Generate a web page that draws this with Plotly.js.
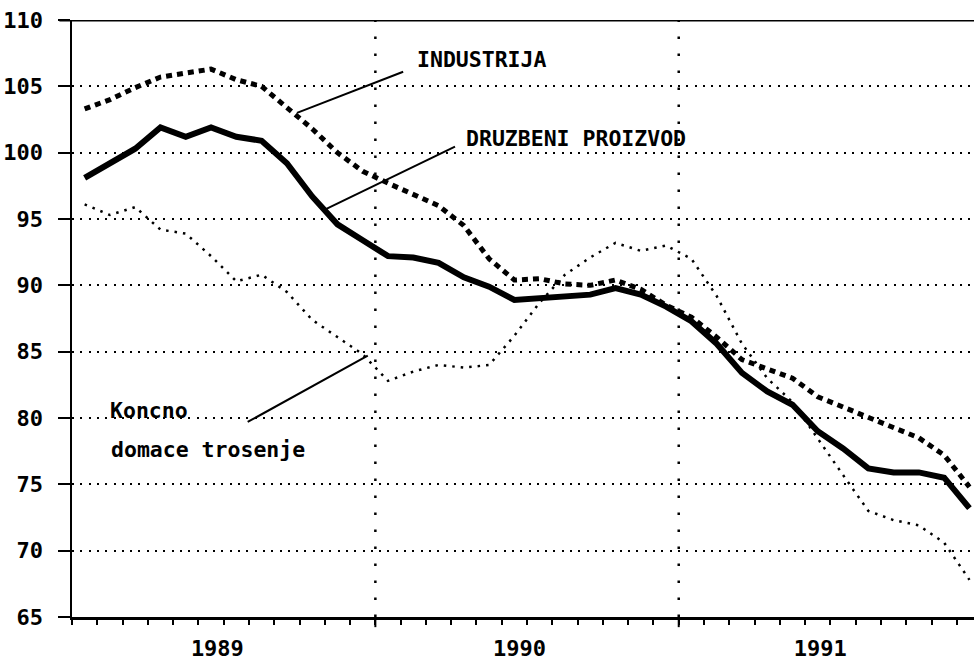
<!DOCTYPE html>
<html>
<head>
<meta charset="utf-8">
<script src="https://cdn.plot.ly/plotly-3.0.1.min.js"></script>
<style>
  html, body { margin: 0; padding: 0; background: #fff; }
  #chart { width: 974px; height: 661px; }
</style>
</head>
<body>
<div id="chart"></div>
<script>
// Monthly index values, Jan 1989 - Dec 1991
const months = [
  '1989-01','1989-02','1989-03','1989-04','1989-05','1989-06','1989-07','1989-08','1989-09','1989-10','1989-11','1989-12',
  '1990-01','1990-02','1990-03','1990-04','1990-05','1990-06','1990-07','1990-08','1990-09','1990-10','1990-11','1990-12',
  '1991-01','1991-02','1991-03','1991-04','1991-05','1991-06','1991-07','1991-08','1991-09','1991-10','1991-11','1991-12'
];
const industrija = [103.3, 104.0, 104.9, 105.7, 106.0, 106.3, 105.5, 105.0, 103.4, 101.8, 100.0, 98.6,
                    97.7, 96.9, 96.0, 94.5, 92.0, 90.4, 90.5, 90.1, 90.0, 90.4, 89.7, 88.5,
                    87.6, 86.1, 84.4, 83.7, 83.0, 81.6, 80.8, 80.0, 79.2, 78.5, 77.2, 74.8];
const druzbeniProizvod = [98.1, 99.2, 100.3, 101.9, 101.2, 101.9, 101.2, 100.9, 99.2, 96.7, 94.6, 93.4,
                          92.2, 92.1, 91.7, 90.6, 89.9, 88.9, 89.0, 89.2, 89.3, 89.8, 89.3, 88.4,
                          87.3, 85.6, 83.4, 82.0, 81.0, 79.0, 77.7, 76.2, 75.9, 75.9, 75.5, 73.2];
const koncnoTrosenje = [96.1, 95.3, 95.9, 94.2, 93.9, 92.2, 90.3, 90.8, 89.5, 87.4, 86.1, 84.8,
                        82.8, 83.5, 84.0, 83.8, 84.0, 86.2, 88.7, 90.8, 92.1, 93.2, 92.6, 93.0,
                        92.0, 89.2, 85.6, 83.0, 81.2, 78.4, 75.7, 73.0, 72.3, 71.9, 70.6, 67.8];
const yearLabels = ['1989', '1990', '1991'];
const yTicks = [65, 70, 75, 80, 85, 90, 95, 100, 105, 110];

// x position: month centres on a month-unit axis
const xPos = months.map((m, i) => i + 0.5);
const yearLabelPos = [5.75, 17.7, 29.6];
const yearDividers = [12, 24];

const FONT = '"DejaVu Sans Mono", "Liberation Mono", monospace';

const traces = [
  { x: xPos, y: industrija, type: 'scatter', mode: 'lines', name: 'INDUSTRIJA',
    line: { color: '#000', width: 5, dash: '6px,5px' } },
  { x: xPos, y: druzbeniProizvod, type: 'scatter', mode: 'lines', name: 'DRUZBENI PROIZVOD',
    line: { color: '#000', width: 6 } },
  { x: xPos, y: koncnoTrosenje, type: 'scatter', mode: 'lines', name: 'Koncno domace trosenje',
    line: { color: '#000', width: 2.5, dash: '2.5px,6px' } }
];

const shapes = [];
yearDividers.forEach(v => {
  shapes.push({ type: 'line', xref: 'x', yref: 'paper', x0: v, x1: v, y0: 0, y1: 1,
                line: { color: '#000', width: 2.5, dash: '2.5px,14.5px' }, layer: 'below' });
  shapes.push({ type: 'line', xref: 'x', yref: 'paper', x0: v, x1: v, y0: 0, y1: -0.017,
                line: { color: '#000', width: 2 } });
});
// top frame line
shapes.push({ type: 'line', xref: 'paper', yref: 'y', x0: -0.014, x1: 1, y0: 110, y1: 110,
              line: { color: '#000', width: 3 } });
// leader lines from labels to series
shapes.push({ type: 'line', xref: 'x', yref: 'y', x0: 8.9, y0: 103.0, x1: 13.1, y1: 106.1,
              line: { color: '#000', width: 2 } });
shapes.push({ type: 'line', xref: 'x', yref: 'y', x0: 10.0, y0: 95.7, x1: 15.15, y1: 100.45,
              line: { color: '#000', width: 2 } });
shapes.push({ type: 'line', xref: 'x', yref: 'y', x0: 6.95, y0: 79.7, x1: 11.7, y1: 84.7,
              line: { color: '#000', width: 2 } });

const annFont = { family: FONT, size: 21.5, color: '#000', weight: 'bold' };
const annotations = [
  { x: 16.18, y: 107.0, xref: 'x', yref: 'y', text: 'INDUSTRIJA', showarrow: false, font: annFont, xanchor: 'center', yanchor: 'middle' },
  { x: 19.95, y: 101.1, xref: 'x', yref: 'y', text: 'DRUZBENI PROIZVOD', showarrow: false, font: annFont, xanchor: 'center', yanchor: 'middle' },
  { x: 1.42, y: 80.6, xref: 'x', yref: 'y', text: 'Koncno', showarrow: false, font: annFont, xanchor: 'left', yanchor: 'middle' },
  { x: 1.48, y: 77.65, xref: 'x', yref: 'y', text: 'domace trosenje', showarrow: false, font: annFont, xanchor: 'left', yanchor: 'middle' }
];

const layout = {
  width: 974, height: 661,
  margin: { l: 72, r: 0, t: 20, b: 44 },
  paper_bgcolor: '#fff', plot_bgcolor: '#fff',
  showlegend: false,
  font: { family: FONT, color: '#000' },
  xaxis: {
    range: [0, 35.68], fixedrange: true,
    tickmode: 'array', tickvals: yearLabelPos, ticktext: yearLabels,
    ticks: '', showgrid: false, zeroline: false,
    showline: true, linecolor: '#000', linewidth: 2.5,
    tickfont: { family: FONT, size: 22, color: '#000', weight: 'bold' },
    ticklabelstandoff: 10,
    minor: { tickmode: 'linear', tick0: 0, dtick: 1, ticks: 'outside', ticklen: 5, tickwidth: 2, tickcolor: '#000', showgrid: false }
  },
  yaxis: {
    range: [65, 110], fixedrange: true,
    tickmode: 'array', tickvals: yTicks,
    ticks: 'outside', ticklen: 12, tickwidth: 2, tickcolor: '#000',
    showline: true, linecolor: '#000', linewidth: 2.5,
    showgrid: true, gridcolor: '#000', gridwidth: 2, griddash: '2px,6.3px',
    zeroline: false,
    tickfont: { family: FONT, size: 22, color: '#000', weight: 'bold' },
    ticklabelstandoff: 10
  },
  shapes: shapes,
  annotations: annotations
};

Plotly.newPlot('chart', traces, layout, { staticPlot: true, displayModeBar: false });
</script>
</body>
</html>
